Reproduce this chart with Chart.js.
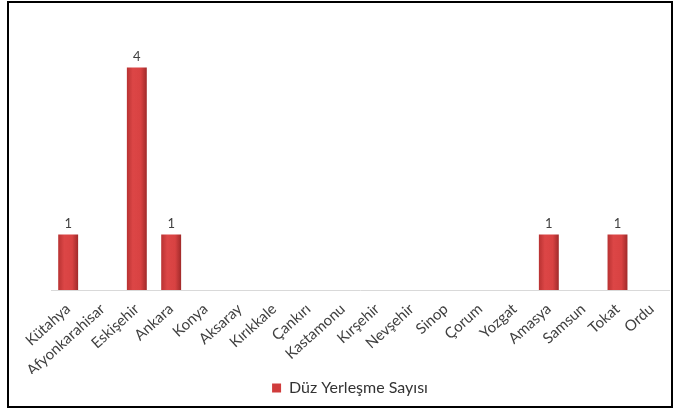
<!DOCTYPE html>
<html>
<head>
<meta charset="utf-8">
<script src="https://cdn.jsdelivr.net/npm/chart.js@4"></script>
<style>
  html, body { margin: 0; padding: 0; background: #fff; }
  #frame {
    position: absolute; left: 7px; top: 1px;
    width: 662px; height: 403px;
    border: 2px solid #000;
  }
  #frame canvas { display: block; }
</style>
</head>
<body>
<div id="frame"><canvas id="chart"></canvas></div>
<script>
// City-level count of "Düz Yerleşme" (plain settlements), Excel-style column chart.

const cities = ['Kütahya', 'Afyonkarahisar', 'Eskişehir', 'Ankara', 'Konya', 'Aksaray',
    'Kırıkkale', 'Çankırı', 'Kastamonu', 'Kırşehir', 'Nevşehir', 'Sinop', 'Çorum',
    'Yozgat', 'Amasya', 'Samsun', 'Tokat', 'Ordu'];
const settlementCounts = [1, 0, 4, 1, 0, 0, 0, 0, 0, 0, 0, 0, 0, 0, 1, 0, 1, 0];
const seriesLabel = 'Düz Yerleşme Sayısı';

const FONT = 'Lato, "Open Sans", sans-serif';
const BAR_PCT = 0.58;
const BASE_RED = '#d03c3c';

// Office-like column fill: darker edges, lighter middle.
// Built per bar from the x scale, so it follows the real bar position.
function barFill(context) {
    const chart = context.chart;
    const xScale = chart.scales && chart.scales.x;
    if (!xScale || context.type !== 'data') return BASE_RED;
    const cx = xScale.getPixelForValue(context.dataIndex);
    const half = (xScale.width / cities.length) * BAR_PCT / 2;
    if (!isFinite(cx) || !isFinite(half) || half <= 0) return BASE_RED;
    const g = chart.ctx.createLinearGradient(cx - half, 0, cx + half, 0);
    g.addColorStop(0, '#b83232');
    g.addColorStop(0.3, '#dc4646');
    g.addColorStop(0.7, '#d84242');
    g.addColorStop(1, '#a02a2a');
    return g;
}

// Value labels above the non-zero columns
const valueLabels = {
    id: 'valueLabels',
    afterDatasetsDraw(chart) {
        const ctx = chart.ctx;
        const ds = chart.data.datasets[0];
        ctx.save();
        ctx.font = '13px ' + FONT;
        ctx.fillStyle = '#404040';
        ctx.textAlign = 'center';
        ctx.textBaseline = 'bottom';
        chart.getDatasetMeta(0).data.forEach((bar, i) => {
            if (!ds.data[i]) return;
            ctx.fillText(String(ds.data[i]), bar.x, bar.y - 4);
        });
        ctx.restore();
    }
};

new Chart(document.getElementById('chart'), {
    type: 'bar',
    data: {
        labels: cities,
        datasets: [{
            label: seriesLabel,
            data: settlementCounts,
            backgroundColor: barFill,
            borderWidth: 0,
            categoryPercentage: 1,
            barPercentage: BAR_PCT,
        }]
    },
    options: {
        responsive: true,
        maintainAspectRatio: false,
        animation: false,
        layout: { padding: { left: 22, right: 2, top: 9, bottom: 0 } },
        scales: {
            x: {
                grid: { display: false },
                border: { display: true, color: '#d9d9d9', width: 1 },
                ticks: {
                    autoSkip: false,
                    maxRotation: 42,
                    minRotation: 42,
                    color: '#404040',
                    padding: 2,
                    font: { family: FONT, size: 15 }
                },
                // keep the axis band the same height as in the original layout
                afterFit(scale) { scale.height = 84; }
            },
            y: {
                // hidden value axis, kept only as a blank gutter on the left
                min: 0,
                max: 5,
                grid: { display: false },
                border: { display: false },
                ticks: { display: false },
                afterFit(scale) { scale.width = 20; }
            }
        },
        plugins: {
            legend: {
                position: 'bottom',
                labels: {
                    color: '#333333',
                    boxWidth: 9,
                    boxHeight: 9,
                    padding: 6,
                    font: { family: FONT, size: 16 },
                    generateLabels(chart) {
                        const items = Chart.defaults.plugins.legend.labels.generateLabels(chart);
                        items.forEach(it => { it.fillStyle = BASE_RED; it.strokeStyle = BASE_RED; it.lineWidth = 0; });
                        return items;
                    }
                }
            },
            tooltip: { enabled: false }
        }
    },
    plugins: [valueLabels]
});
</script>
</body>
</html>
